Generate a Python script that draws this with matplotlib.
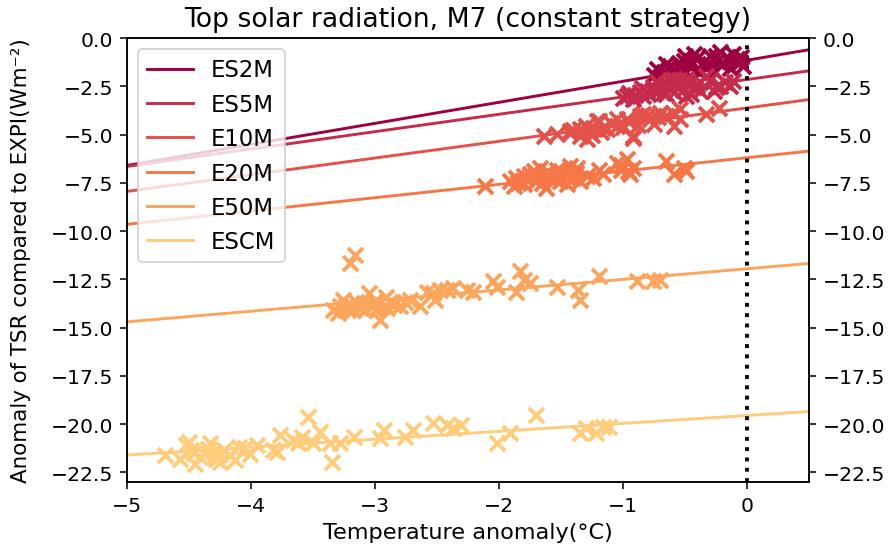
import matplotlib
matplotlib.use('Agg')
import matplotlib.pyplot as plt
from matplotlib.ticker import MultipleLocator
import numpy as np

labels = ['ES2M', 'ES5M', 'E10M', 'E20M', 'E50M', 'ESCM']

# fitted lines: slope and value at 0 degC
slopes = [1.09, 0.90, 0.865, 0.69, 0.55, 0.41]
intercepts = [-1.15, -2.15, -3.62, -6.20, -11.95, -19.55]

# temperature anomaly / TSR anomaly for every member
es2m_t = [-0.73, -0.67, -0.62, -0.57, -0.51, -0.46, -0.41, -0.35, -0.30, -0.24, -0.22, -0.16,
          -0.11, -0.06, -0.03, -0.27, -0.38, -0.49, -0.65, -0.54, -0.33, -0.14, -0.08, -0.43,
          -0.75, -0.70, -0.60, -0.55, -0.45, -0.40, -0.30, -0.20, -0.25, -0.10, -0.05, -0.50]
es2m_r = [-1.61, -1.78, -1.44, -1.70, -1.18, -1.44, -1.09, -1.26, -0.92, -1.18, -0.74, -1.00,
          -0.83, -1.26, -1.44, -1.70, -1.78, -1.78, -1.35, -1.53, -1.53, -1.53, -1.09, -0.83,
          -1.90, -2.00, -1.90, -1.30, -1.20, -1.65, -1.35, -1.40, -0.95, -1.20, -1.00, -0.95]

es5m_t = [-0.97, -0.92, -0.86, -0.81, -0.76, -0.73, -0.70, -0.65, -0.59, -0.54, -0.49, -0.43,
          -0.38, -0.33, -0.27, -0.22, -0.14, -0.11, -0.84, -0.65, -0.49, -0.38, -0.59,
          -1.00, -0.95, -0.90, -0.85, -0.80, -0.75, -0.70, -0.68, -0.62, -0.57, -0.52, -0.47,
          -0.45, -0.40, -0.30, -0.25, -0.18, -0.55, -0.62]
es5m_r = [-3.00, -3.17, -2.82, -2.74, -2.56, -2.30, -2.65, -2.39, -2.82, -2.48, -2.13, -2.56,
          -2.30, -1.96, -2.74, -2.48, -2.48, -2.22, -3.00, -2.91, -3.00, -2.74, -2.13,
          -3.10, -2.85, -2.95, -2.60, -2.90, -2.75, -2.45, -2.85, -2.60, -2.35, -2.70, -2.40,
          -2.90, -2.45, -2.20, -2.55, -2.30, -2.20, -2.20]

e10m_t = [-1.64, -1.53, -1.43, -1.35, -1.29, -1.24, -1.19, -1.13, -1.05, -0.97, -0.92, -0.86,
          -0.78, -0.70, -0.65, -0.59, -0.54, -0.33, -0.23, -1.21, -1.05, -0.92, -0.84, -0.65,
          -0.54, -1.16, -1.43, -1.40, -1.30, -1.25, -1.10, -1.00, -0.95, -0.88, -0.80, -0.75,
          -0.72, -0.60, -1.35, -1.18]
e10m_r = [-5.07, -4.99, -4.90, -4.73, -5.25, -4.64, -4.29, -4.73, -4.55, -4.21, -5.07, -4.03,
          -4.21, -3.86, -4.03, -4.55, -4.21, -3.95, -3.60, -4.29, -4.21, -5.16, -3.95, -4.03,
          -3.69, -4.64, -4.81, -4.75, -4.55, -5.00, -4.40, -4.60, -4.35, -4.50, -4.00, -4.45,
          -4.10, -3.90, -5.10, -4.85]

e20m_t = [-2.11, -1.91, -1.86, -1.80, -1.75, -1.72, -1.70, -1.67, -1.64, -1.62, -1.59, -1.56,
          -1.53, -1.51, -1.48, -1.45, -1.43, -1.40, -1.37, -1.35, -1.29, -1.24, -1.19, -1.16,
          -1.05, -1.02, -0.97, -0.94, -0.92, -0.65, -0.59, -0.51, -0.49, -1.88, -1.80, -1.62,
          -1.85, -1.78, -1.70, -1.65, -1.60, -1.55, -1.50, -1.45, -1.38, -1.02, -0.96]
e20m_r = [-7.67, -7.41, -7.24, -7.15, -7.06, -6.89, -7.41, -6.72, -7.24, -6.98, -7.32, -7.15,
          -6.81, -7.41, -7.06, -7.58, -6.63, -7.24, -6.72, -7.41, -7.15, -7.24, -6.81, -7.06,
          -6.46, -6.81, -6.29, -7.06, -6.72, -6.37, -7.06, -6.72, -6.89, -7.67, -7.58, -7.75,
          -7.50, -7.30, -7.10, -7.50, -7.00, -7.30, -6.90, -7.20, -7.00, -6.60, -6.90]

e50m_t = [-3.16, -3.20, -3.34, -3.30, -3.26, -3.23, -3.20, -3.18, -3.15, -3.12, -3.09, -3.05,
          -3.04, -3.01, -2.99, -2.96, -2.93, -2.91, -2.88, -2.85, -2.80, -2.76, -2.72, -2.64,
          -2.58, -2.53, -2.52, -2.48, -2.42, -2.37, -2.26, -2.21, -2.05, -2.02, -1.86, -1.83,
          -1.80, -1.75, -1.53, -1.36, -1.35, -1.19, -0.89, -0.76, -0.70,
          -3.28, -3.22, -3.14, -3.08, -3.00, -2.90]
e50m_r = [-11.22, -11.65, -14.08, -14.25, -13.56, -13.90, -13.82, -14.08, -13.65, -13.99,
          -13.73, -13.21, -13.82, -13.65, -14.08, -14.60, -13.90, -13.39, -13.65, -13.82,
          -13.90, -13.65, -13.56, -13.90, -13.13, -13.21, -13.56, -13.04, -13.04, -12.95,
          -13.04, -13.13, -12.61, -12.87, -13.13, -12.09, -12.52, -12.69, -12.87, -13.04,
          -13.56, -12.35, -12.61, -12.61, -12.52,
          -13.90, -14.10, -13.85, -14.10, -13.80, -14.00]

escm_t = [-4.69, -4.57, -4.52, -4.50, -4.48, -4.45, -4.41, -4.37, -4.33, -4.30, -4.28, -4.25,
          -4.25, -4.22, -4.17, -4.13, -4.10, -4.05, -4.01, -3.95, -3.82, -3.77, -3.79, -3.66,
          -3.62, -3.59, -3.54, -3.50, -3.44, -3.36, -3.35, -3.28, -3.17, -2.96, -2.93, -2.76,
          -2.69, -2.53, -2.42, -2.37, -2.31, -2.02, -1.91, -1.70, -1.35, -1.30, -1.22, -1.16,
          -1.11, -4.46, -4.35, -4.28]
escm_r = [-21.61, -21.78, -21.09, -20.92, -21.35, -22.04, -21.70, -21.52, -21.00, -21.44,
          -21.78, -21.96, -21.52, -21.35, -21.61, -21.87, -21.18, -21.26, -21.52, -21.09,
          -21.35, -20.57, -21.44, -20.83, -21.00, -20.66, -19.62, -21.00, -20.40, -21.00,
          -21.96, -21.00, -20.66, -20.74, -20.31, -20.66, -20.31, -19.96, -20.05, -20.22,
          -20.05, -21.00, -20.48, -19.53, -20.48, -20.22, -20.48, -20.14, -20.14,
          -21.50, -21.30, -21.60]

temps = [es2m_t, es5m_t, e10m_t, e20m_t, e50m_t, escm_t]
tsr = [es2m_r, es5m_r, e10m_r, e20m_r, e50m_r, escm_r]

colors = plt.cm.Spectral(np.linspace(0, 0.36, 6))

plt.rcParams['xtick.labelsize'] = 10.5
plt.rcParams['ytick.labelsize'] = 10.5

fig, ax = plt.subplots(figsize=(6.4, 3.957), dpi=140)
fig.subplots_adjust(left=0.1417, right=0.903, top=0.9296, bottom=0.128)

xx = np.array([-5, 0.5])
for i in range(6):
    ax.plot(xx, slopes[i] * xx + intercepts[i], color=colors[i], label=labels[i])
for i in range(6):
    ax.scatter(temps[i], tsr[i], marker='x', color=colors[i], s=60, linewidths=2, zorder=3)

ax.axvline(0, color='k', ls=':', lw=2)
ax.axhline(0, color='k', ls=':', lw=1)
ax.set_xlim(-5, 0.5)
ax.set_ylim(-23, 0)
ax.yaxis.set_major_locator(MultipleLocator(2.5))
ax.set_xlabel('Temperature anomaly(°C)', fontsize=11.5)
ax.set_ylabel('Anomaly of TSR compared to EXPI(Wm⁻²)', fontsize=11, labelpad=10)
ax.set_title('Top solar radiation, M7 (constant strategy)', fontsize=13.7)
ax.legend(loc='upper left', fontsize=11.7)

ax2 = ax.twinx()
ax2.set_ylim(ax.get_ylim())
ax2.yaxis.set_major_locator(MultipleLocator(2.5))

plt.savefig('out.png', dpi=140)
